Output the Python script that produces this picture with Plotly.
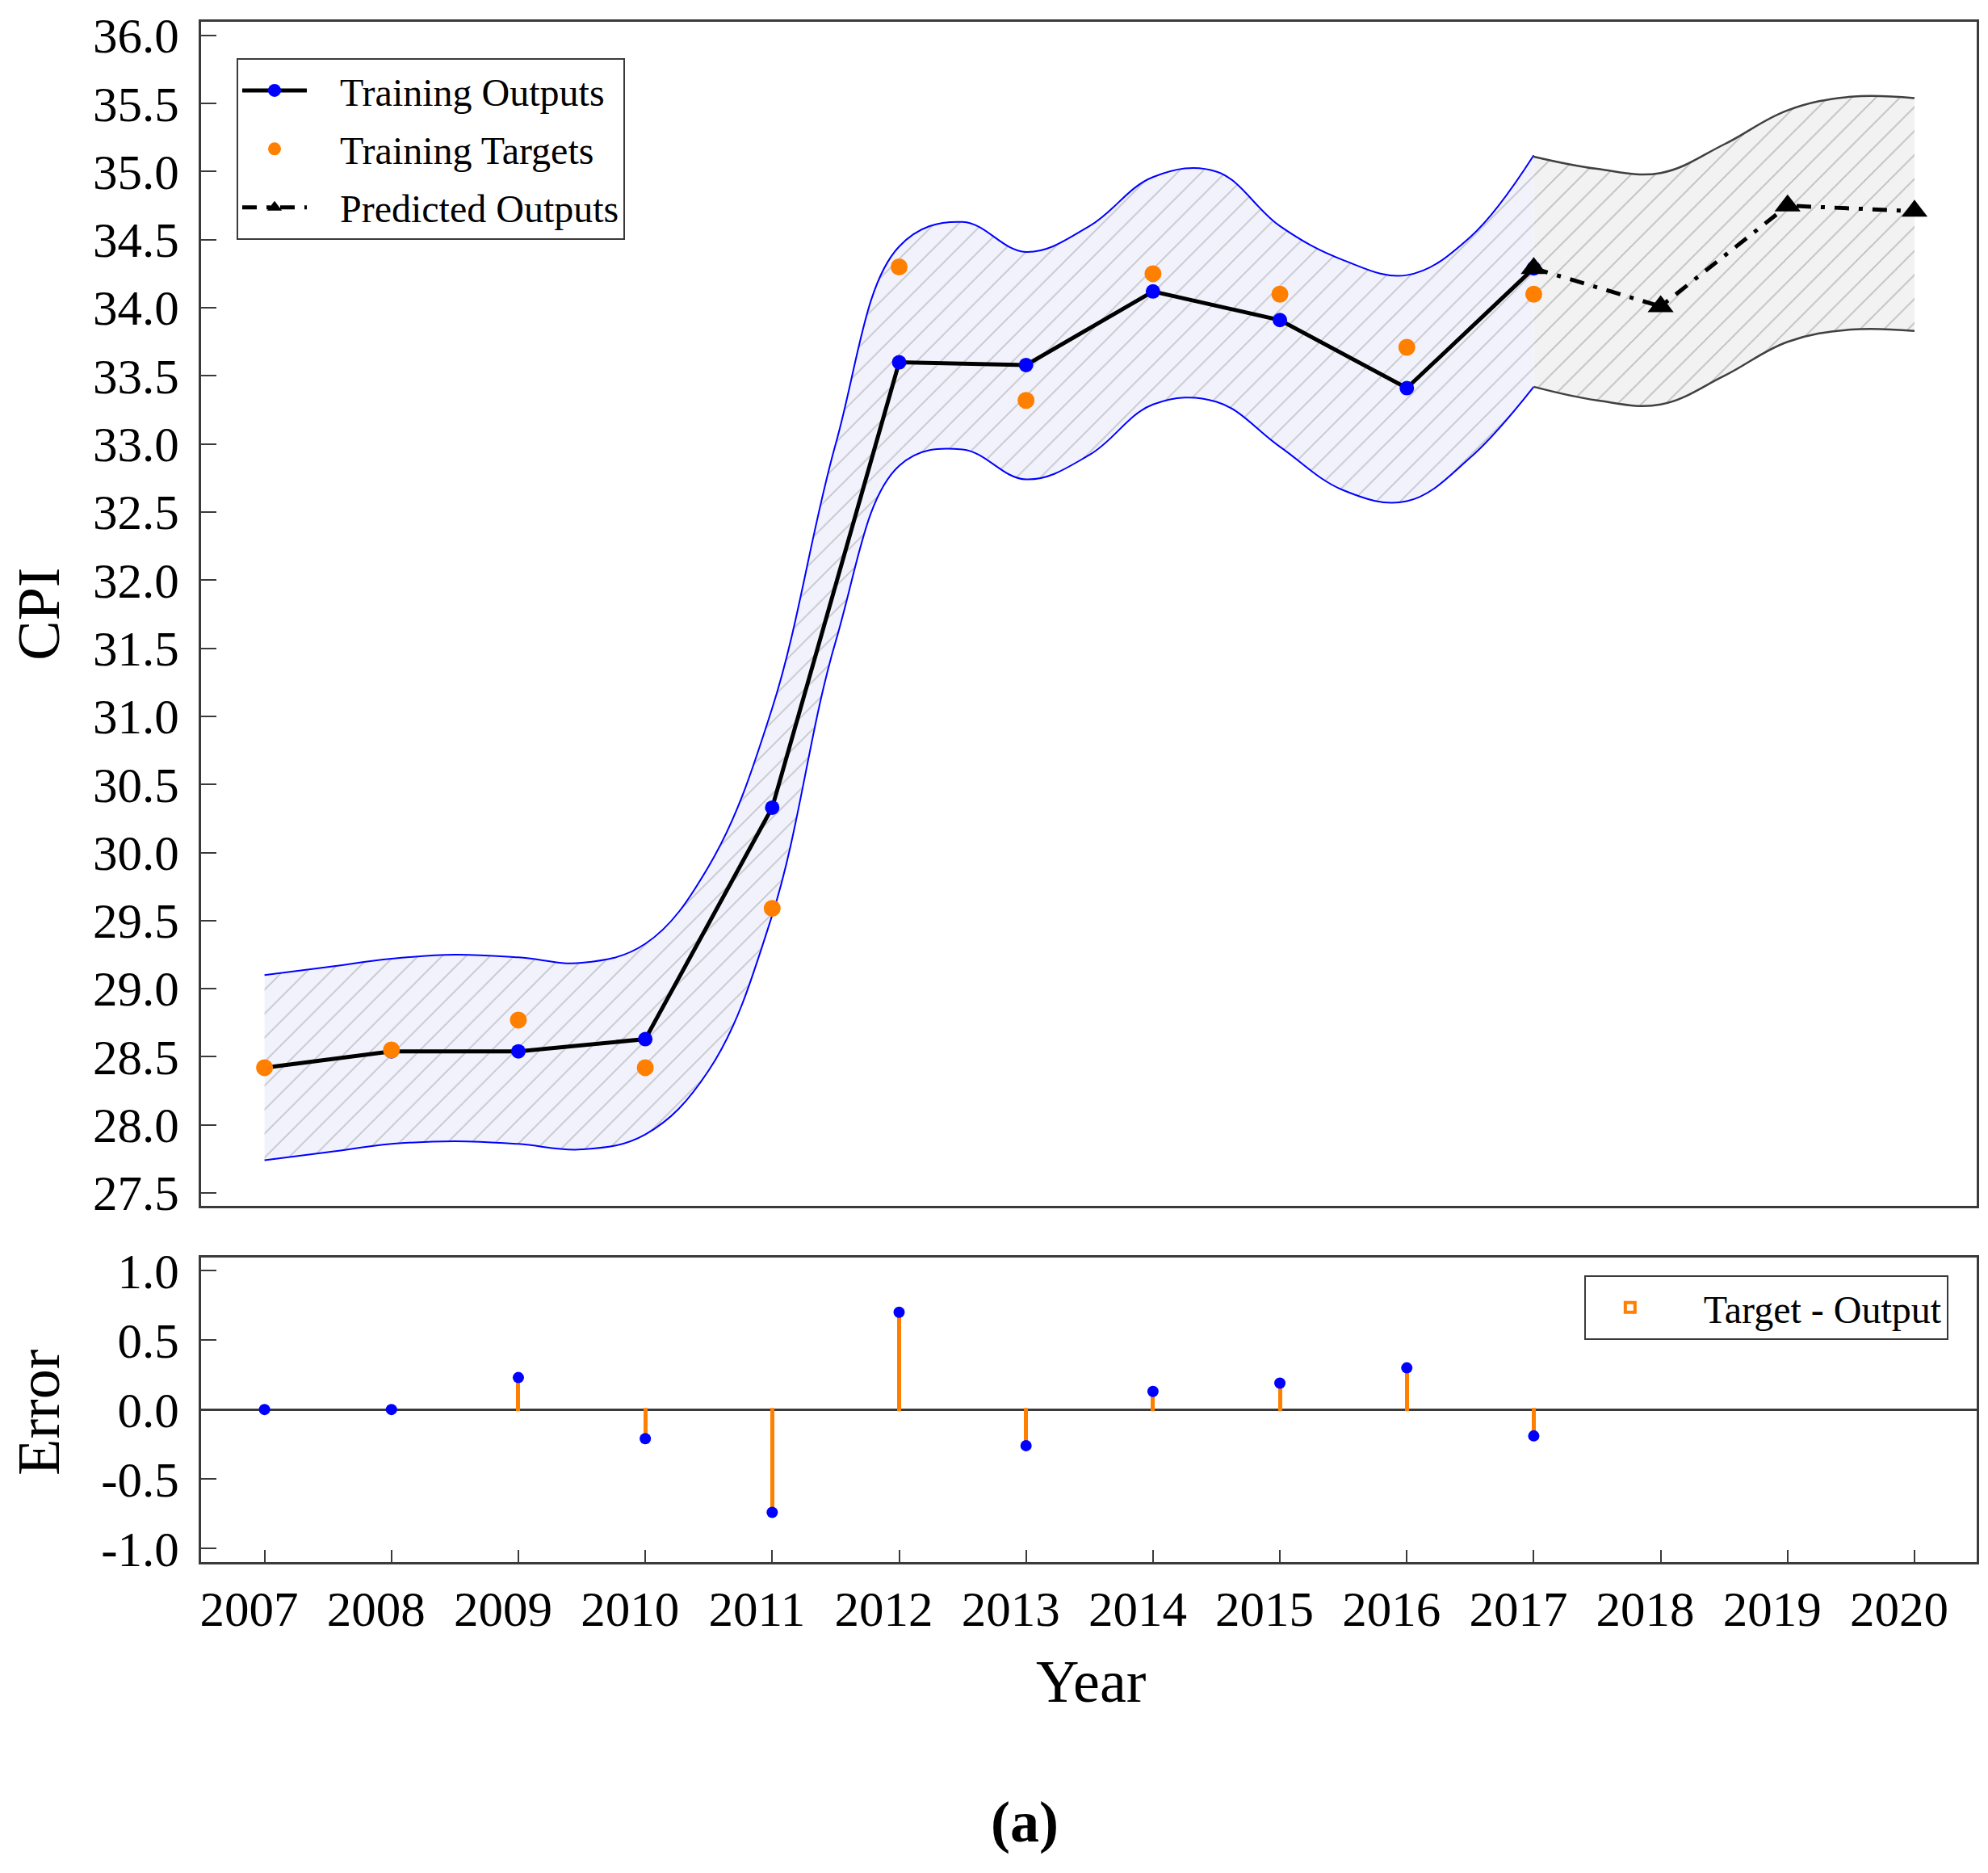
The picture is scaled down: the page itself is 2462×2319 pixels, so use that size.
import plotly.graph_objects as go

# ---------------- data ----------------
years = [2007, 2008, 2009, 2010, 2011, 2012, 2013, 2014, 2015, 2016, 2017]
training_outputs = [28.42, 28.54, 28.54, 28.63, 30.33, 33.60, 33.58, 34.12, 33.91, 33.41, 34.29]
training_targets = [28.42, 28.55, 28.77, 28.42, 29.59, 34.30, 33.32, 34.25, 34.10, 33.71, 34.10]

pred_years = [2017, 2018, 2019, 2020]
predicted_outputs = [34.29, 34.01, 34.75, 34.71]

errors = [0.0, 0.0, 0.23, -0.21, -0.74, 0.70, -0.26, 0.13, 0.19, 0.30, -0.19]

band_years = [2007, 2007.5, 2008, 2008.5, 2009, 2009.5, 2010, 2010.5, 2011, 2011.5,
              2012, 2012.5, 2013, 2013.5, 2014, 2014.5, 2015, 2015.5, 2016, 2016.5, 2017]
band_upper = [29.10, 29.16, 29.22, 29.25, 29.23, 29.19, 29.33, 29.90, 31.06, 33.00,
              34.45, 34.63, 34.41, 34.60, 34.96, 35.00, 34.60, 34.35, 34.24, 34.52, 35.12]
band_lower = [27.74, 27.80, 27.86, 27.88, 27.86, 27.82, 27.93, 28.40, 29.54, 31.55,
              32.84, 32.96, 32.74, 32.92, 33.29, 33.31, 32.98, 32.66, 32.58, 32.90, 33.42]

pred_band_years = [2017, 2017.5, 2018, 2018.5, 2019, 2019.5, 2020]
pred_band_upper = [35.11, 35.02, 34.99, 35.20, 35.45, 35.55, 35.54]
pred_band_lower = [33.42, 33.32, 33.29, 33.50, 33.75, 33.84, 33.83]

cpi_ticks = [27.5, 28.0, 28.5, 29.0, 29.5, 30.0, 30.5, 31.0, 31.5, 32.0, 32.5, 33.0,
             33.5, 34.0, 34.5, 35.0, 35.5, 36.0]
err_ticks = [-1.0, -0.5, 0.0, 0.5, 1.0]
year_ticks = [2007, 2008, 2009, 2010, 2011, 2012, 2013, 2014, 2015, 2016, 2017, 2018, 2019, 2020]

# ---------------- styles ----------------
FONT = "Liberation Serif"
BLUE = "#0000ff"
ORANGE = "#ff8000"
AXIS = "#3a3a3a"
SP = "\u00a0\u00a0\u00a0"

fig = go.Figure()

# training confidence band
fig.add_trace(go.Scatter(x=band_years, y=band_upper, mode="lines",
                         line=dict(color=BLUE, width=2, shape="spline", smoothing=1.1),
                         showlegend=False, hoverinfo="skip", xaxis="x", yaxis="y"))
fig.add_trace(go.Scatter(x=band_years, y=band_lower, mode="lines", fill="tonexty",
                         fillcolor="#f2f2fd",
                         fillpattern=dict(shape="/", size=21, solidity=0.08,
                                          fgcolor="#959595", bgcolor="#f2f2fd"),
                         line=dict(color=BLUE, width=2, shape="spline", smoothing=1.1),
                         showlegend=False, hoverinfo="skip", xaxis="x", yaxis="y"))

# prediction band
fig.add_trace(go.Scatter(x=pred_band_years, y=pred_band_upper, mode="lines",
                         line=dict(color="#404040", width=2.5, shape="spline", smoothing=1.1),
                         showlegend=False, hoverinfo="skip", xaxis="x", yaxis="y"))
fig.add_trace(go.Scatter(x=pred_band_years, y=pred_band_lower, mode="lines", fill="tonexty",
                         fillcolor="#f2f2f2",
                         fillpattern=dict(shape="/", size=21, solidity=0.08,
                                          fgcolor="#888888", bgcolor="#f2f2f2"),
                         line=dict(color="#404040", width=2.5, shape="spline", smoothing=1.1),
                         showlegend=False, hoverinfo="skip", xaxis="x", yaxis="y"))

# series
fig.add_trace(go.Scatter(x=years, y=training_outputs, mode="lines+markers",
                         name=SP + "Training Outputs", legendgroup="g1",
                         line=dict(color="black", width=5),
                         marker=dict(color=BLUE, size=18),
                         xaxis="x", yaxis="y"))
fig.add_trace(go.Scatter(x=years, y=training_targets, mode="markers",
                         name=SP + "Training Targets", legendgroup="g2",
                         marker=dict(color=ORANGE, size=21),
                         xaxis="x", yaxis="y"))
fig.add_trace(go.Scatter(x=pred_years, y=predicted_outputs, mode="lines+markers",
                         name=SP + "Predicted Outputs", legendgroup="g3",
                         line=dict(color="black", width=5, dash="18px,12px,5px,12px"),
                         marker=dict(color="black", size=28, symbol="triangle-up"),
                         xaxis="x", yaxis="y"))

# error panel
fig.add_trace(go.Bar(x=years, y=errors, name=SP + "Target - Output", width=0.006,
                     marker=dict(color="rgba(255,255,255,0)", line=dict(color=ORANGE, width=4)),
                     legend="legend2", xaxis="x2", yaxis="y2"))
fig.add_trace(go.Scatter(x=years, y=errors, mode="markers",
                         marker=dict(color=BLUE, size=14),
                         showlegend=False, xaxis="x2", yaxis="y2"))

axis_common = dict(showline=True, linecolor=AXIS, linewidth=3, mirror=True,
                   showgrid=False, zeroline=False,
                   tickfont=dict(family=FONT, size=61, color="black"))

title_font = dict(family=FONT, size=74, color="black")

fig.update_layout(
    width=2454, height=2298,
    margin=dict(l=241, r=14, t=2, b=372),
    paper_bgcolor="white", plot_bgcolor="white",
    font=dict(family=FONT, color="black"),
    xaxis=dict(domain=[0, 1], anchor="y", range=[2006.5, 2020.49],
               showticklabels=False, ticks="", **axis_common),
    yaxis=dict(domain=[0.2313, 1], anchor="x", range=[27.406, 36.10],
               tickvals=cpi_ticks, ticktext=[f"{v:.1f}" for v in cpi_ticks],
               ticks="inside", ticklen=19, tickwidth=2, tickcolor=AXIS,
               ticklabelstandoff=12, **axis_common),
    xaxis2=dict(domain=[0, 1], anchor="y2", range=[2006.5, 2020.49], matches="x",
                tickvals=year_ticks, ticktext=[str(v) for v in year_ticks],
                tickangle=0, ticklabelshift=-19,
                ticks="inside", ticklen=15, tickwidth=2, tickcolor=AXIS,
                ticklabelstandoff=3, **axis_common),
    yaxis2=dict(domain=[0, 0.1975], anchor="x2", range=[-1.098, 1.092],
                tickvals=err_ticks, ticktext=[f"{v:.1f}" for v in err_ticks],
                ticks="inside", ticklen=19, tickwidth=2, tickcolor=AXIS,
                ticklabelstandoff=12, **{**axis_common, "zeroline": True},
                zerolinecolor=AXIS, zerolinewidth=2.5),
    legend=dict(x=0.02, y=0.9763, xanchor="left", yanchor="top",
                traceorder="grouped",
                bgcolor="white", bordercolor=AXIS, borderwidth=2,
                font=dict(family=FONT, size=48, color="black"),
                itemwidth=80, tracegroupgap=7),
    legend2=dict(x=0.984, y=0.1861, xanchor="right", yanchor="top",
                 bgcolor="white", bordercolor=AXIS, borderwidth=2,
                 font=dict(family=FONT, size=48, color="black"),
                 itemwidth=100),
    bargap=0,
    annotations=[
        dict(text="CPI", x=-0.0915, y=0.6157, xref="paper", yref="paper",
             xanchor="center", yanchor="middle",
             textangle=-90, showarrow=False, font=title_font),
        dict(text="Error", x=-0.0915, y=0.097, xref="paper", yref="paper",
             xanchor="center", yanchor="middle",
             textangle=-90, showarrow=False, font=title_font),
        dict(text="Year", x=0.501, y=-0.0774, xref="paper", yref="paper",
             xanchor="center", yanchor="middle",
             showarrow=False, font=title_font),
        dict(text="<b>(a)</b>", x=0.464, y=-0.169, xref="paper", yref="paper",
             xanchor="center", yanchor="middle",
             showarrow=False, font=dict(family=FONT, size=72, color="black")),
    ],
)

fig.write_html("out.html")
